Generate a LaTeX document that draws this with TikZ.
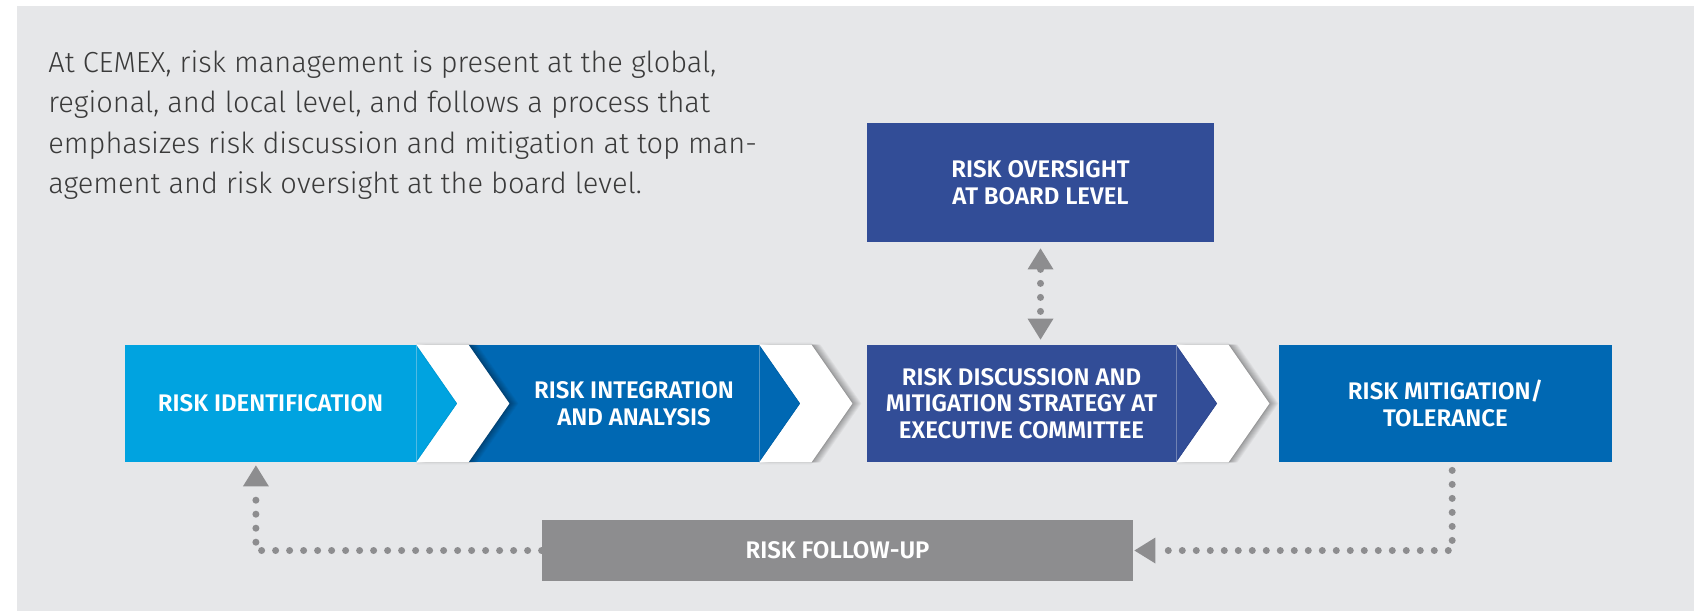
\documentclass[tikz,border=0pt]{standalone}
\usepackage{fontspec}
\setmainfont{Fira Sans}[UprightFont=* Light, BoldFont=* SemiBold]
\usetikzlibrary{calc,arrows.meta}

\definecolor{bggray}{HTML}{E6E7E9}
\definecolor{idblue}{HTML}{00A3E0}
\definecolor{midblue}{HTML}{0068B3}
\definecolor{navyblue}{HTML}{324D97}
\definecolor{fugray}{HTML}{8D8D8F}
\definecolor{txtgray}{HTML}{3A3A3A}

% white separator between two process boxes
\newcommand\sepshape[1]{(#1.north east) -- ++(52,0) -- ($(#1.east)+(93,0)$)
  -- ($(#1.south east)+(52,0)$) -- (#1.south east) -- ($(#1.east)+(41,0)$) -- cycle}

\tikzset{
  box/.style={rectangle, inner sep=0pt, minimum height=58.5pt, text=white,
    font=\bfseries\fontsize{12}{13.3}\selectfont, align=center},
  dots/.style={draw=fugray, line width=3.5pt, line cap=round, dash pattern=on 0pt off 7pt},
  tri/.tip={Triangle[width=13pt, length=10.5pt, line width=0pt]}
}

\begin{document}
\begin{tikzpicture}[x=0.5pt, y=-0.5pt]
  \useasboundingbox (0,0) rectangle (1706,611);
  \fill[bggray] (17,6) rectangle (1694,611);

  \node[anchor=north west, inner sep=0pt, align=left, text=txtgray,
    font=\fontsize{14.5}{20.2}\selectfont] (intro) at (48,50)
    {At CEMEX, risk management is present at the global,\\
     regional, and local level, and follows a process that\\
     emphasizes risk discussion and mitigation at top man-\\
     agement and risk oversight at the board level.};

  % process boxes
  \node[box, fill=idblue, minimum width=145.5pt] (ident) at (270.5,403.5) {RISK IDENTIFICATION};
  \node[box, fill=midblue, minimum width=125pt] (integ) at (634,403.5) {RISK INTEGRATION\\AND ANALYSIS};
  \node[box, fill=navyblue, minimum width=154.5pt] (disc) at (1021.5,403.5)
    {RISK DISCUSSION AND\\MITIGATION STRATEGY AT\\EXECUTIVE COMMITTEE};
  \node[box, fill=midblue, minimum width=166.5pt] (mitig) at (1445.5,403.5) {RISK MITIGATION/\\TOLERANCE};
  \node[box, fill=navyblue, minimum width=173.5pt, minimum height=59.5pt] (board) at (1040.5,182.5)
    {RISK OVERSIGHT\\AT BOARD LEVEL};
  \node[box, fill=fugray, minimum width=295.5pt, minimum height=30.5pt] (follow) at (837.5,550.5)
    {RISK FOLLOW-UP};

  % arrow points of the chevrons
  \fill[idblue] (ident.north east) -- ($(ident.east)+(41,0)$) -- (ident.south east) -- cycle;
  \fill[midblue] ($(integ.north west)+(-41,0)$) rectangle (integ.south west);
  \fill[midblue] (integ.north east) -- ($(integ.east)+(41,0)$) -- (integ.south east) -- cycle;
  \fill[navyblue] (disc.north east) -- ($(disc.east)+(41,0)$) -- (disc.south east) -- cycle;

  % white separators with a soft shadow to the right
  \foreach \b in {ident,integ,disc}{
    \foreach \s in {0.5,1,...,4.5}{
      \begin{scope}[transform canvas={xshift=\s pt}]
        \fill[black, opacity=0.04] \sepshape{\b};
      \end{scope}
    }
    \begin{scope}[transform canvas={yshift=1pt}]
      \fill[black, opacity=0.04] \sepshape{\b};
    \end{scope}
    \begin{scope}[transform canvas={yshift=-1pt}]
      \fill[black, opacity=0.04] \sepshape{\b};
    \end{scope}
    \fill[white] \sepshape{\b};
  }

  % dotted links
  \draw[dots, tri-tri, shorten <=3pt, shorten >=2.5pt] (board.south) -- (board.south |- disc.north);
  \draw[dots, -tri, shorten >=0.5pt]
    ($(mitig.south west)!0.52!(mitig.south east)+(0,8)$) |- (follow.east);
  \draw[dots, -tri, shorten >=1.5pt]
    (follow.west) -| ($(ident.south west)!0.45!(ident.south east)$);
\end{tikzpicture}
\end{document}
